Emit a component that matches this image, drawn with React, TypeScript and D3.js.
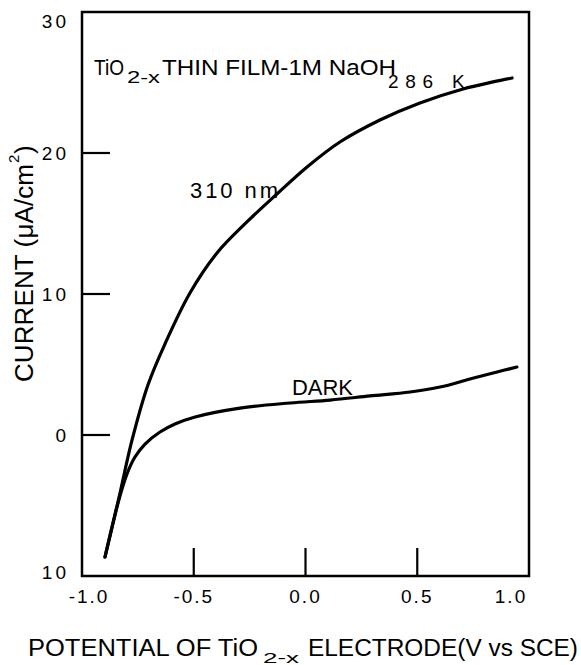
import React from "react";
import * as d3 from "d3";

// ---- data ----
const xTicks = [-0.5, 0.0, 0.5];
const xTickLabels = ["-1.0", "-0.5", "0.0", "0.5", "1.0"];
const xLabelValues = [-1.0, -0.5, 0.0, 0.5, 1.0];
const yTicks = [0, 10, 20];
const yLabelValues = [30, 20, 10, 0, -10];
const yTickLabels = ["30", "20", "10", "0", "10"];

// 310 nm illuminated curve
const lightV = [-0.897, -0.834, -0.776, -0.705, -0.629, -0.517, -0.396, -0.262, -0.128, 0.007, 0.154, 0.333, 0.512, 0.705, 0.839, 0.924];
const lightI = [-8.65, -4.4, -0.35, 3.55, 6.45, 10.07, 12.91, 15.11, 17.09, 19.01, 20.78, 22.34, 23.55, 24.54, 25.04, 25.32];

// dark curve
const darkV = [-0.897, -0.834, -0.799, -0.763, -0.718, -0.651, -0.584, -0.494, -0.293, -0.069, 0.11, 0.289, 0.468, 0.602, 0.736, 0.857, 0.946];
const darkI = [-8.65, -4.54, -2.77, -1.56, -0.64, 0.21, 0.78, 1.28, 1.91, 2.27, 2.48, 2.77, 3.05, 3.4, 3.97, 4.47, 4.82];

const W = 581;
const H = 665;
const left = 82, right = 529, top = 12, bottom = 576;
const FONT = "'Liberation Sans', Arial, sans-serif";

export default function App() {
  const x = d3.scaleLinear().domain([-1, 1]).range([left, right]);
  const y = d3.scaleLinear().domain([-10, 30]).range([bottom, top]);
  const line = d3
    .line<[number, number]>()
    .x((d) => x(d[0]))
    .y((d) => y(d[1]))
    .curve(d3.curveCatmullRom.alpha(0.5));
  const light = lightV.map((v, i) => [v, lightI[i]] as [number, number]);
  const dark = darkV.map((v, i) => [v, darkI[i]] as [number, number]);

  const tickLen = 28;

  return (
    <svg
      width={W}
      height={H}
      style={{ position: "absolute", left: 0, top: 0, background: "#fff" }}
      fontFamily={FONT}
    >
      <rect x={0} y={0} width={W} height={H} fill="#fff" />
      {/* frame */}
      <rect
        x={left}
        y={top}
        width={right - left}
        height={bottom - top}
        fill="none"
        stroke="#000"
        strokeWidth={2.5}
      />
      {/* y ticks (inward) */}
      {yTicks.map((t) => (
        <line key={"yt" + t} x1={left} x2={left + tickLen} y1={y(t)} y2={y(t)} stroke="#000" strokeWidth={2.2} />
      ))}
      {/* x ticks (inward) */}
      {xTicks.map((t) => (
        <line key={"xt" + t} x1={x(t)} x2={x(t)} y1={bottom} y2={bottom - tickLen} stroke="#000" strokeWidth={2.2} />
      ))}
      {/* y tick labels */}
      {yLabelValues.map((v, i) => (
        <text
          key={"yl" + i}
          x={69}
          y={Math.min(Math.max(y(v), 21), 572)}
          dy="0.36em"
          textAnchor="end"
          fontSize={19}
          letterSpacing={3}
          fill="#000"
        >
          {yTickLabels[i]}
        </text>
      ))}
      {/* x tick labels */}
      {xLabelValues.map((v, i) => (
        <text
          key={"xl" + i}
          x={Math.min(Math.max(x(v), 89), 511)}
          y={603}
          textAnchor="middle"
          fontSize={19}
          letterSpacing={2}
          fill="#000"
        >
          {xTickLabels[i]}
        </text>
      ))}

      {/* curves */}
      <path d={line(light) || ""} fill="none" stroke="#000" strokeWidth={3.2} strokeLinecap="round" strokeLinejoin="round" />
      <path d={line(dark) || ""} fill="none" stroke="#000" strokeWidth={3.2} strokeLinecap="round" strokeLinejoin="round" />

      {/* title */}
      <text x={94} y={75} fontSize={22} textLength={30} lengthAdjust="spacingAndGlyphs">TiO</text>
      <text x={127} y={83} fontSize={16} textLength={33} lengthAdjust="spacingAndGlyphs">2-x</text>
      <text x={162} y={75} fontSize={22} textLength={234} lengthAdjust="spacingAndGlyphs">THIN FILM-1M NaOH</text>
      <text x={388} y={88} fontSize={19} textLength={45} lengthAdjust="spacing">286</text>
      <text x={452} y={88} fontSize={19}>K</text>

      <text x={190} y={198} fontSize={22} textLength={88} lengthAdjust="spacing">310 nm</text>
      <text x={292} y={395} fontSize={22} textLength={61} lengthAdjust="spacingAndGlyphs">DARK</text>

      {/* x axis title */}
      <text x={28} y={656} fontSize={23} textLength={230} lengthAdjust="spacingAndGlyphs">POTENTIAL OF TiO</text>
      <text x={263} y={663} fontSize={15} textLength={36} lengthAdjust="spacingAndGlyphs">2-x</text>
      <text x={308} y={656} fontSize={23} textLength={270} lengthAdjust="spacingAndGlyphs">ELECTRODE(V vs SCE)</text>

      {/* y axis title */}
      <g transform="translate(33,382) rotate(-90)">
        <text x={0} y={0} fontSize={26} textLength={218} lengthAdjust="spacing">CURRENT (μA/cm</text>
        <text x={219} y={-14} fontSize={15}>2</text>
        <text x={228} y={0} fontSize={26}>)</text>
      </g>
    </svg>
  );
}
